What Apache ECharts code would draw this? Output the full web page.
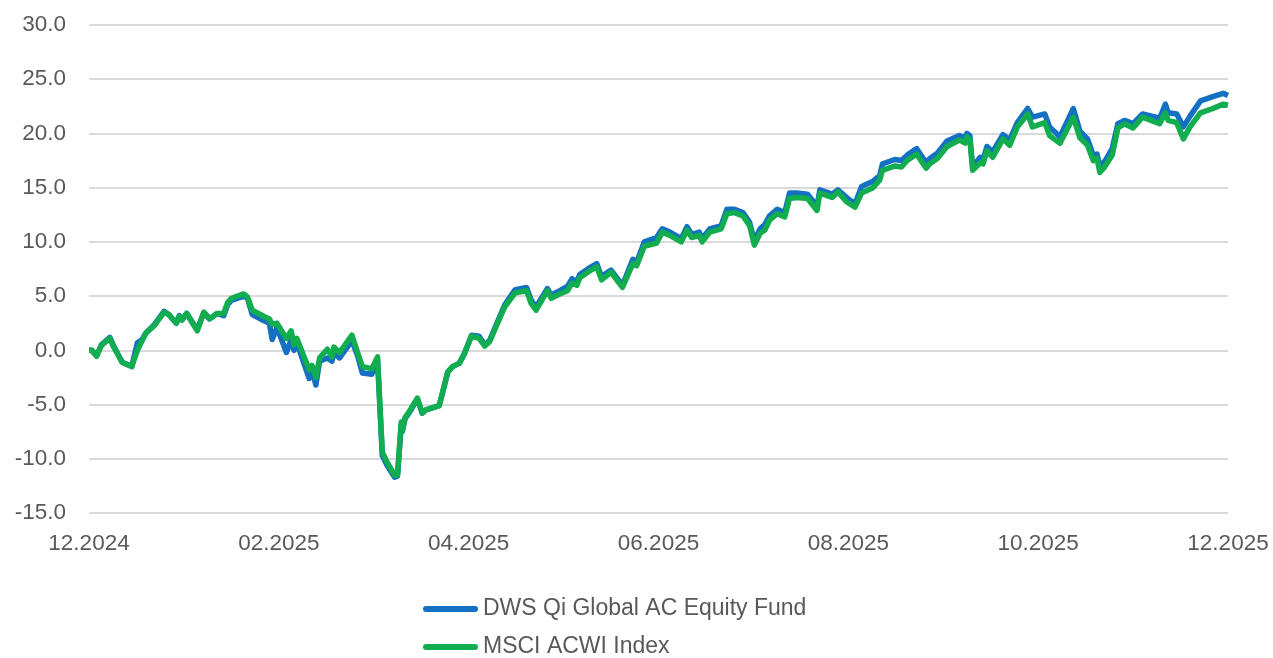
<!DOCTYPE html>
<html>
<head>
<meta charset="utf-8">
<script src="https://cdn.jsdelivr.net/npm/echarts@6/dist/echarts.min.js"></script>
<style>html,body{margin:0;padding:0;background:#fff}#c{width:1273px;height:658px}</style>
</head>
<body>
<div id="c"></div>
<script>
// x positions: months since 12.2024
const months = [0,0.03,0.08,0.13,0.22,0.26,0.35,0.45,0.51,0.56,0.60,0.69,0.79,0.84,0.92,0.95,0.98,1.03,1.14,1.21,1.27,1.35,1.42,1.46,1.50,1.63,1.67,1.72,1.85,1.90,1.93,1.98,2.08,2.13,2.16,2.19,2.32,2.35,2.39,2.43,2.51,2.56,2.58,2.64,2.77,2.83,2.88,2.98,3.04,3.09,3.14,3.22,3.25,3.29,3.30,3.33,3.37,3.46,3.51,3.55,3.69,3.78,3.83,3.90,3.95,4.03,4.11,4.17,4.22,4.38,4.49,4.61,4.66,4.71,4.83,4.87,4.96,5.04,5.09,5.14,5.17,5.29,5.35,5.40,5.50,5.62,5.73,5.77,5.85,5.98,6.04,6.12,6.24,6.30,6.35,6.43,6.46,6.54,6.66,6.72,6.80,6.89,6.96,7.01,7.07,7.12,7.17,7.25,7.33,7.38,7.46,7.57,7.67,7.70,7.83,7.89,7.98,8.07,8.14,8.26,8.33,8.36,8.49,8.56,8.62,8.72,8.75,8.82,8.86,8.94,9.04,9.17,9.23,9.25,9.28,9.31,9.39,9.42,9.46,9.52,9.63,9.70,9.78,9.89,9.94,10.07,10.12,10.23,10.30,10.37,10.44,10.52,10.58,10.62,10.65,10.70,10.78,10.84,10.91,11.00,11.10,11.28,11.34,11.37,11.46,11.53,11.60,11.71,11.84,11.95,12.00];
const msci = [0.0,0.0,-0.55,0.45,1.1,0.3,-1.1,-1.5,0.0,0.9,1.6,2.3,3.5,3.3,2.5,3.1,2.8,3.4,1.8,3.5,2.9,3.4,3.4,4.4,4.8,5.2,4.9,3.7,3.1,2.9,2.4,2.5,1.1,1.8,0.5,1.1,-1.8,-1.4,-2.5,-0.7,0.1,-0.6,0.3,-0.2,1.4,-0.2,-1.5,-1.7,-0.6,-9.4,-10.3,-11.5,-11.5,-6.6,-7.4,-6.2,-5.7,-4.4,-5.8,-5.5,-5.1,-2.0,-1.5,-1.2,-0.4,1.3,1.1,0.4,0.8,4.0,5.3,5.5,4.3,3.7,5.5,4.8,5.2,5.5,6.2,6.0,6.7,7.4,7.7,6.5,7.2,5.8,8.0,7.8,9.6,9.9,10.9,10.6,10.0,11.1,10.4,10.6,10.0,10.9,11.2,12.6,12.7,12.4,11.5,9.7,10.8,11.1,12.0,12.6,12.3,14.0,14.1,14.0,12.9,14.5,14.1,14.6,13.7,13.2,14.5,15.0,15.7,16.6,17.0,16.9,17.5,18.1,17.7,16.8,17.2,17.7,18.8,19.4,19.1,19.7,19.4,16.6,17.3,17.2,18.4,17.8,19.5,18.9,20.6,21.8,20.6,21.0,19.8,19.1,20.3,21.5,19.6,18.9,17.5,17.7,16.4,16.9,18.0,20.5,20.9,20.5,21.5,20.9,21.9,21.2,21.0,19.5,20.6,21.9,22.3,22.7,22.6];
const fund = [0.0,0.0,-0.5,0.5,1.2,0.4,-1.1,-1.5,0.7,1.0,1.6,2.4,3.6,3.3,2.5,3.2,2.8,3.4,1.9,3.5,2.9,3.4,3.2,4.2,4.6,5.0,4.8,3.3,2.7,2.5,1.0,2.1,-0.2,1.0,0.0,0.7,-2.6,-1.8,-3.2,-1.0,-0.7,-1.0,-0.2,-0.7,0.9,-0.5,-2.1,-2.2,-0.9,-9.7,-10.6,-11.7,-11.6,-6.8,-7.5,-6.3,-5.8,-4.5,-5.8,-5.5,-5.1,-2.0,-1.5,-1.2,-0.4,1.4,1.3,0.5,0.9,4.2,5.6,5.8,4.6,4.0,5.7,5.1,5.5,5.9,6.6,6.3,7.0,7.7,8.0,6.8,7.4,6.0,8.4,8.1,10.0,10.4,11.2,10.9,10.3,11.4,10.7,10.9,10.3,11.2,11.5,13.0,13.0,12.7,11.8,10.1,11.2,11.6,12.4,13.0,12.7,14.5,14.5,14.4,13.3,14.8,14.4,14.8,14.1,13.5,15.1,15.6,16.1,17.2,17.6,17.5,18.0,18.6,18.2,17.3,17.7,18.2,19.3,19.8,19.6,20.0,19.8,16.9,17.8,17.6,18.8,18.3,19.9,19.4,21.0,22.3,21.5,21.8,20.6,19.7,21.0,22.3,20.2,19.5,18.0,18.1,17.0,17.4,18.6,20.9,21.2,20.9,21.8,21.4,22.7,21.9,21.8,20.6,21.6,23.0,23.4,23.7,23.5];
const xLabels = {0:'12.2024',2:'02.2025',4:'04.2025',6:'06.2025',8:'08.2025',10:'10.2025',12:'12.2025'};
const seriesNames = ['DWS Qi Global AC Equity Fund','MSCI ACWI Index'];

const chart = echarts.init(document.getElementById('c'));
const txt = {color:'#595959', fontFamily:'Liberation Sans, Arial, sans-serif', fontSize:22.5};
const legendText = {color:'#595959', fontFamily:'Liberation Sans, Arial, sans-serif', fontSize:23, lineHeight:28};
const icon = 'path://M3,0 L52,0 A3,3 0 0 1 52,6 L3,6 A3,3 0 0 1 3,0 Z';
chart.setOption({
  animation:false,
  grid:{left:89, right:45, top:25, bottom:145, containLabel:false},
  xAxis:{type:'value', min:0, max:12, interval:2,
    axisLine:{show:false}, axisTick:{show:false}, splitLine:{show:false},
    axisLabel:Object.assign({margin:19, formatter:v=>xLabels[v]||''}, txt)},
  yAxis:{type:'value', min:-15, max:30, interval:5,
    axisLine:{show:false}, axisTick:{show:false},
    splitLine:{lineStyle:{color:'#d9d9d9', width:2}},
    axisLabel:Object.assign({margin:23, formatter:v=>v.toFixed(1)}, txt)},
  legend:[
    {left:423, top:595, padding:0, icon:icon, itemWidth:55, itemHeight:6, textStyle:legendText, data:[seriesNames[0]]},
    {left:423, top:633, padding:0, icon:icon, itemWidth:55, itemHeight:6, textStyle:legendText, data:[seriesNames[1]]}
  ],
  series:[
    {name:seriesNames[0], type:'line', symbol:'none', color:'#1470c2',
      lineStyle:{width:5.5, join:'round'}, data:months.map((m,i)=>[m,fund[i]])},
    {name:seriesNames[1], type:'line', symbol:'none', color:'#12ad4f',
      lineStyle:{width:5.5, join:'round'}, data:months.map((m,i)=>[m,msci[i]])}
  ]
});
</script>
</body>
</html>
